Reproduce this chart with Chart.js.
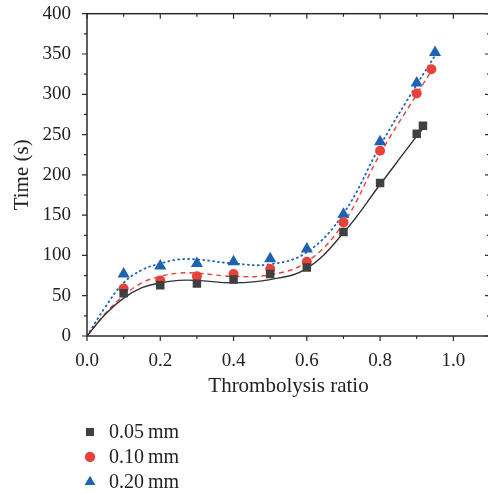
<!DOCTYPE html>
<html>
<head>
<meta charset="utf-8">
<script src="https://cdn.jsdelivr.net/npm/chart.js@4"></script>
<style>
  html, body { margin: 0; padding: 0; background: #fff; overflow: hidden; }
  #wrap { width: 500px; height: 494px; position: relative; }
</style>
</head>
<body>
<div id="wrap"><canvas id="chart"></canvas></div>
<script>
// measured points
const seriesNames = ['0.05\u2009mm', '0.10\u2009mm', '0.20\u2009mm'];
const x05 = [0.1, 0.2, 0.3, 0.4, 0.5, 0.6, 0.7, 0.8, 0.9, 0.917];
const y05 = [53, 63, 65, 70, 77, 85, 129, 190, 251, 261];
const x10 = [0.1, 0.2, 0.3, 0.4, 0.5, 0.6, 0.7, 0.8, 0.9, 0.94];
const y10 = [59, 69, 74, 77, 83, 92, 141, 230, 301, 331];
const x20 = [0.1, 0.2, 0.3, 0.4, 0.5, 0.6, 0.7, 0.8, 0.9, 0.95];
const y20 = [77, 87, 90, 92, 96, 108, 151, 241, 314, 352];

// fitted curves
const fitX05 = [0, 0.05, 0.1, 0.15, 0.2, 0.25, 0.3, 0.4, 0.5, 0.6, 0.7, 0.8, 0.9, 0.92];
const fitY05 = [0, 27, 47, 60, 66, 69, 69, 66, 70, 84, 128, 188, 248, 259];
const fitX10 = [0, 0.05, 0.1, 0.15, 0.2, 0.25, 0.3, 0.4, 0.5, 0.6, 0.7, 0.8, 0.9, 0.95];
const fitY10 = [0, 28, 50, 66, 74, 78, 78, 74, 76, 92, 140, 226, 300, 336];
const fitX20 = [0, 0.05, 0.1, 0.15, 0.2, 0.25, 0.3, 0.4, 0.5, 0.6, 0.7, 0.8, 0.9, 0.95];
const fitY20 = [0, 36, 66, 82, 90, 95, 95, 90, 89, 104, 152, 236, 312, 348];

const xMajor = [0, 0.2, 0.4, 0.6, 0.8, 1.0];
const xMinor = [0.1, 0.3, 0.5, 0.7, 0.9, 1.1];
const yMajor = [0, 50, 100, 150, 200, 250, 300, 350, 400];
const yMinor = [25, 75, 125, 175, 225, 275, 325, 375];

const colors = ['#404040', '#e8423b', '#1f62b0'];
const serif = '"Liberation Serif", "DejaVu Serif", serif';

const pts = (xs, ys) => xs.map((x, i) => ({ x: x, y: ys[i] }));

const frame = {
    id: 'frame',
    afterDraw(chart) {
        const { ctx, chartArea: a, scales: { x, y } } = chart;
        ctx.save();
        ctx.strokeStyle = '#2b2b2b';
        ctx.lineWidth = 1.5;
        ctx.strokeRect(a.left, a.top, a.right - a.left, a.bottom - a.top);
        ctx.lineWidth = 1.2;
        ctx.beginPath();
        const tx = (v, len) => {
            const px = x.getPixelForValue(v);
            ctx.moveTo(px, a.bottom); ctx.lineTo(px, a.bottom + len);
            ctx.moveTo(px, a.top); ctx.lineTo(px, a.top + len);
        };
        const ty = (v, len) => {
            const py = y.getPixelForValue(v);
            ctx.moveTo(a.left, py); ctx.lineTo(a.left - len, py);
            ctx.moveTo(a.right, py); ctx.lineTo(a.right - len, py);
        };
        xMajor.forEach(v => tx(v, 5));
        xMinor.forEach(v => tx(v, 3));
        yMajor.forEach(v => ty(v, 5));
        yMinor.forEach(v => ty(v, 3));
        ctx.stroke();

        // legend, stacked under the plot
        const styles = ['rect', 'circle', 'triangle'];
        const radii = [5.5, 5, 6];
        ctx.font = '20px ' + serif;
        ctx.textBaseline = 'middle';
        seriesNames.forEach((name, i) => {
            const cy = 432 + i * 25;
            ctx.fillStyle = colors[i];
            Chart.helpers.drawPoint(ctx, { pointStyle: styles[i], radius: radii[i], rotation: 0, borderWidth: 0 }, 90, cy);
            ctx.fill();
            ctx.fillStyle = '#222';
            ctx.fillText(name, 109, cy + 1);
        });
        ctx.restore();
    }
};

new Chart(document.getElementById('chart'), {
    type: 'scatter',
    data: {
        datasets: [
            { type: 'line', data: pts(fitX05, fitY05), borderColor: '#333', borderWidth: 1.4, pointRadius: 0, tension: 0.4, fill: false, order: 2 },
            { type: 'line', data: pts(fitX10, fitY10), borderColor: colors[1], borderWidth: 1.4, borderDash: [5, 4], pointRadius: 0, tension: 0.4, fill: false, order: 2 },
            { type: 'line', data: pts(fitX20, fitY20), borderColor: colors[2], borderWidth: 1.8, borderDash: [1, 4], borderCapStyle: 'round', pointRadius: 0, tension: 0.4, fill: false, order: 2 },
            { label: seriesNames[0], data: pts(x05, y05), pointStyle: 'rect', pointRadius: 6, backgroundColor: colors[0], borderWidth: 0, order: 1 },
            { label: seriesNames[1], data: pts(x10, y10), pointStyle: 'circle', pointRadius: 5, backgroundColor: colors[1], borderWidth: 0, order: 1 },
            { label: seriesNames[2], data: pts(x20, y20), pointStyle: 'triangle', pointRadius: 7, backgroundColor: colors[2], borderWidth: 0, order: 1 }
        ]
    },
    options: {
        responsive: true,
        maintainAspectRatio: false,
        animation: false,
        layout: { padding: { top: 4, right: 10, bottom: 95, left: 0 } },
        plugins: { legend: { display: false }, tooltip: { enabled: false } },
        scales: {
            x: {
                type: 'linear',
                min: 0, max: 1.1,
                grid: { display: false },
                border: { display: false },
                ticks: {
                    stepSize: 0.2, includeBounds: false, padding: 6,
                    color: '#222', font: { family: serif, size: 19 },
                    callback: v => v.toFixed(1)
                },
                title: { display: true, text: 'Thrombolysis ratio', color: '#222', font: { family: serif, size: 21 }, padding: { top: -5, bottom: 0 } }
            },
            y: {
                min: 0, max: 400,
                afterFit: s => { s.width = 87; },
                grid: { display: false },
                border: { display: false },
                ticks: { stepSize: 50, padding: 8, color: '#222', font: { family: serif, size: 19, lineHeight: 0.6 } },
                title: { display: true, text: 'Time (s)', color: '#222', font: { family: serif, size: 21 }, padding: { top: 10 } }
            }
        }
    },
    plugins: [frame]
});
</script>
</body>
</html>
